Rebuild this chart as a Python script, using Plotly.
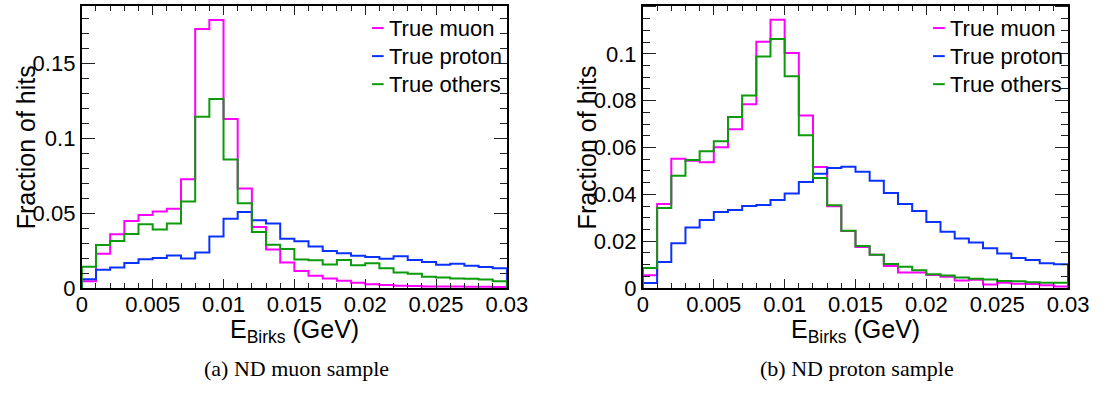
import numpy as np
import plotly.graph_objects as go

# Histogram binning: 30 bins of 1 MeV between 0 and 0.03 GeV
bin_edges = np.linspace(0.0, 0.03, 31)

# (a) ND muon sample: fraction of hits per bin
muon_a = [0.0045, 0.0230, 0.0360, 0.0449, 0.0488, 0.0512, 0.0530, 0.0727, 0.1732, 0.1792,
          0.1130, 0.0666, 0.0408, 0.0257, 0.0171, 0.0114, 0.0082, 0.0063, 0.0048, 0.0035,
          0.0025, 0.0020, 0.0016, 0.0013, 0.0011, 0.0010, 0.0010, 0.0009, 0.0008, 0.0007]
proton_a = [0.0058, 0.0123, 0.0138, 0.0168, 0.0192, 0.0201, 0.0218, 0.0197, 0.0238, 0.0345,
            0.0464, 0.0508, 0.0454, 0.0432, 0.0329, 0.0313, 0.0278, 0.0248, 0.0233, 0.0216,
            0.0207, 0.0195, 0.0212, 0.0187, 0.0174, 0.0156, 0.0162, 0.0149, 0.0141, 0.0132]
others_a = [0.0142, 0.0287, 0.0315, 0.0362, 0.0427, 0.0391, 0.0431, 0.0578, 0.1145, 0.1264,
            0.0860, 0.0567, 0.0375, 0.0289, 0.0261, 0.0190, 0.0186, 0.0158, 0.0188, 0.0153,
            0.0165, 0.0132, 0.0104, 0.0095, 0.0075, 0.0070, 0.0064, 0.0062, 0.0057, 0.0045]

# (b) ND proton sample
muon_b = [0.0055, 0.0359, 0.0552, 0.0543, 0.0537, 0.0601, 0.0678, 0.0785, 0.1052, 0.1145,
          0.1003, 0.0737, 0.0517, 0.0349, 0.0244, 0.0175, 0.0142, 0.0094, 0.0066, 0.0066,
          0.0056, 0.0048, 0.0032, 0.0035, 0.0015, 0.0023, 0.0018, 0.0017, 0.0012, 0.0007]
proton_b = [0.0022, 0.0111, 0.0191, 0.0258, 0.0291, 0.0325, 0.0333, 0.0350, 0.0355, 0.0376,
            0.0404, 0.0453, 0.0488, 0.0512, 0.0518, 0.0497, 0.0458, 0.0406, 0.0359, 0.0329,
            0.0282, 0.0240, 0.0212, 0.0194, 0.0170, 0.0147, 0.0128, 0.0120, 0.0106, 0.0101]
others_b = [0.0086, 0.0342, 0.0479, 0.0547, 0.0584, 0.0627, 0.0730, 0.0822, 0.0989, 0.1063,
            0.0904, 0.0652, 0.0470, 0.0353, 0.0245, 0.0179, 0.0142, 0.0103, 0.0091, 0.0076,
            0.0059, 0.0054, 0.0045, 0.0040, 0.0036, 0.0030, 0.0029, 0.0025, 0.0023, 0.0023]

series_names = ["True muon", "True proton", "True others"]
series_colors = ["#ff00ff", "#0a32ff", "#0d9a0d"]
panel_titles = ["(a) ND muon sample", "(b) ND proton sample"]

W, H = 1119, 400
SANS = "Liberation Sans, Arial, Helvetica, sans-serif"
SERIF = "Liberation Serif, Times New Roman, serif"

# panel frames in pixels: (left, right)
frames_x = [(77.7, 513.3), (652.7, 1088.3)]
frame_top, frame_bottom = 6.0, 297.7
y_max = [0.1887, 0.1205]
y_major = [0.05, 0.02]
y_minor = [0.01, 0.005]


def px_x(p):
    return p / W


def px_y(p):
    return 1 - p / H


def step_outline(values):
    """Closed step outline of a histogram, starting and ending on the baseline."""
    xs = [bin_edges[0]] + list(bin_edges[:-1]) + [bin_edges[-1], bin_edges[-1]]
    ys = [0.0] + list(values) + [values[-1], 0.0]
    return xs, ys


fig = go.Figure()

panels = [(muon_a, proton_a, others_a), (muon_b, proton_b, others_b)]
for i, hists in enumerate(panels):
    xref = "x" if i == 0 else "x2"
    yref = "y" if i == 0 else "y2"
    for vals, name, col in zip(hists, series_names, series_colors):
        xs, ys = step_outline(vals)
        fig.add_trace(go.Scatter(
            x=xs, y=ys, mode="lines", name=name,
            line=dict(color=col, width=2, shape="hv"),
            xaxis=xref, yaxis=yref, showlegend=False, hoverinfo="skip",
        ))

axis_common = dict(
    showgrid=False, zeroline=False, showline=True, linecolor="black", linewidth=2,
    mirror="allticks", ticks="inside", tickcolor="#222", tickwidth=1,
    tickfont=dict(family=SANS, size=22, color="black"),
)

layout_axes = {}
for i in range(2):
    sx = "" if i == 0 else "2"
    l, r = frames_x[i]
    layout_axes["xaxis" + sx] = dict(
        axis_common,
        domain=[px_x(l), px_x(r)], range=[0, 0.03], anchor="y" + sx,
        tickmode="linear", tick0=0, dtick=0.005, ticklen=9, ticklabelstandoff=-4,
        minor=dict(ticks="inside", dtick=0.001, ticklen=5, tickcolor="#222", tickwidth=1),
    )
    layout_axes["yaxis" + sx] = dict(
        axis_common,
        domain=[px_y(frame_bottom), px_y(frame_top)], range=[0, y_max[i]], anchor="x" + sx,
        tickmode="linear", tick0=0, dtick=y_major[i], ticklen=13,
        minor=dict(ticks="inside", dtick=y_minor[i], ticklen=7, tickcolor="#222", tickwidth=1),
    )

annotations = []
shapes = []
for i in range(2):
    l, r = frames_x[i]
    cx = (l + r) / 2
    # x axis title
    annotations.append(dict(
        text="E<sub>Birks</sub> (GeV)", x=px_x(cx), y=px_y(342), xref="paper", yref="paper",
        xanchor="center", yanchor="middle", showarrow=False,
        font=dict(family=SANS, size=25, color="black"),
    ))
    # y axis title
    annotations.append(dict(
        text="Fraction of hits", x=px_x(l - 57), y=px_y(152),
        xref="paper", yref="paper", xanchor="center", yanchor="middle", textangle=-90,
        showarrow=False, font=dict(family=SANS, size=25, color="black"),
    ))
    # caption below each panel
    annotations.append(dict(
        text=panel_titles[i], x=px_x(cx + 2), y=px_y(381), xref="paper", yref="paper",
        xanchor="center", yanchor="middle", showarrow=False,
        font=dict(family=SERIF, size=22, color="black"),
    ))
    # legend entries
    leg_text_x = 390 if i == 0 else 965
    for j, (name, col) in enumerate(zip(series_names, series_colors)):
        yy = 29 + 29 * j
        annotations.append(dict(
            text=name, x=px_x(leg_text_x), y=px_y(yy), xref="paper", yref="paper",
            xanchor="left", yanchor="middle", showarrow=False,
            font=dict(family=SANS, size=22, color="black"),
        ))
        shapes.append(dict(
            type="line", xref="paper", yref="paper",
            x0=px_x(leg_text_x - 15), x1=px_x(leg_text_x - 3), y0=px_y(yy), y1=px_y(yy),
            line=dict(color=col, width=2),
        ))

fig.update_layout(
    width=W, height=H, margin=dict(l=0, r=0, t=0, b=0),
    paper_bgcolor="white", plot_bgcolor="white",
    annotations=annotations, shapes=shapes, **layout_axes,
)

fig.write_html("out.html")
